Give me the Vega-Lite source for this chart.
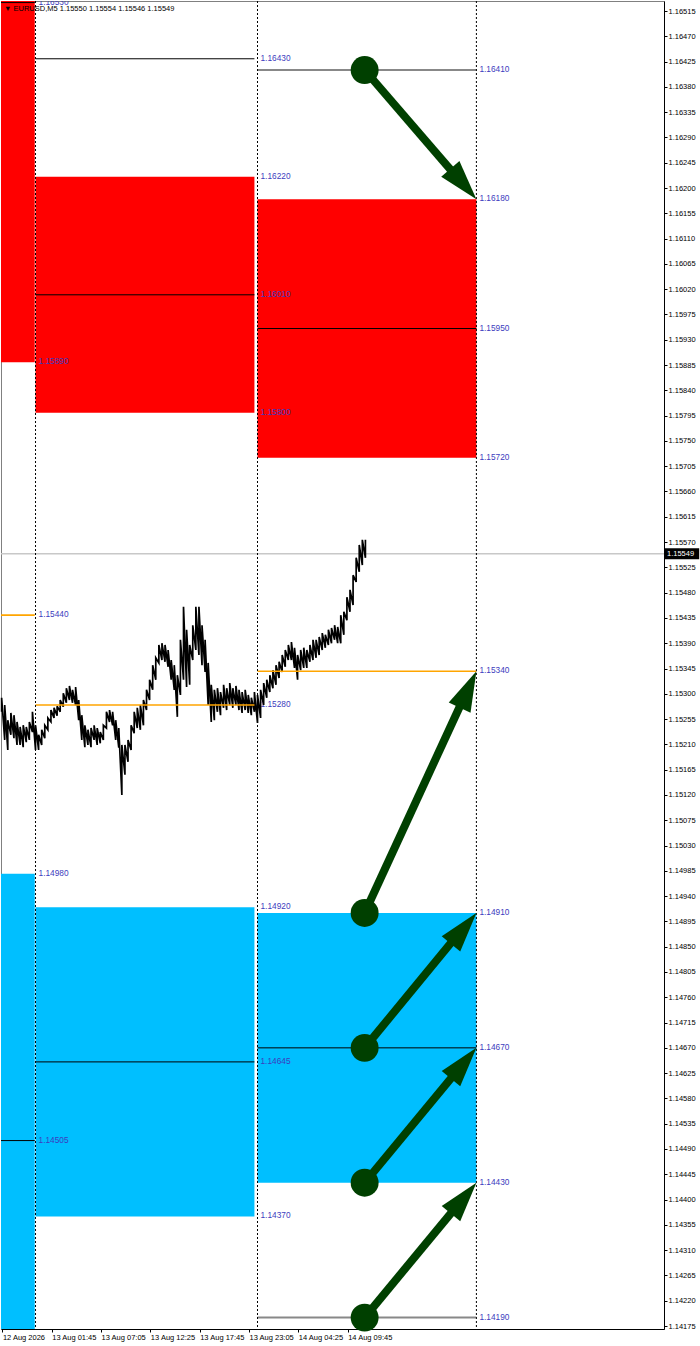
{
  "$schema": "https://vega.github.io/schema/vega-lite/v6.json",
  "width": 663,
  "height": 1328,
  "autosize": {"type": "none"},
  "padding": {"left": 1, "top": 1, "right": 36, "bottom": 17},
  "background": "white",
  "config": {"view": {"stroke": "#808080", "strokeWidth": 1}, "font": "Liberation Sans", "axis": {"labelOverlap": false}},
  "title": {"text": "▼ EURUSD,M5  1.15550 1.15554 1.15546 1.15549", "anchor": "start", "frame": "group", "orient": "top", "offset": -18, "baseline": "alphabetic", "fontSize": 7.5, "fontWeight": "normal", "font": "Liberation Sans", "color": "#000000", "dx": 3},
  "datasets": {
    "zones": [
      {"day": "12 Aug", "start": "2026-08-12T00:00Z", "end": "2026-08-12T23:55Z", "red_lo": 1.15890, "red_hi": 1.17170, "blue_lo": 1.14030, "blue_hi": 1.14980},
      {"day": "13 Aug", "start": "2026-08-13T00:00Z", "end": "2026-08-13T23:40Z", "red_lo": 1.15800, "red_hi": 1.16220, "blue_lo": 1.14370, "blue_hi": 1.14920},
      {"day": "14 Aug", "start": "2026-08-14T00:00Z", "end": "2026-08-14T23:40Z", "red_lo": 1.15720, "red_hi": 1.16180, "blue_lo": 1.14430, "blue_hi": 1.14910}
    ],
    "levels": [
      {"start": "2026-08-12T00:00Z", "end": "2026-08-12T23:55Z", "at": "2026-08-13T00:00Z", "price": 1.16530, "role": "level"},
      {"start": "2026-08-12T00:00Z", "end": "2026-08-12T23:55Z", "at": "2026-08-13T00:00Z", "price": 1.15890, "role": "zone"},
      {"start": "2026-08-12T00:00Z", "end": "2026-08-12T23:55Z", "at": "2026-08-13T00:00Z", "price": 1.15440, "role": "pivot"},
      {"start": "2026-08-12T00:00Z", "end": "2026-08-12T23:55Z", "at": "2026-08-13T00:00Z", "price": 1.14980, "role": "zone"},
      {"start": "2026-08-12T00:00Z", "end": "2026-08-12T23:55Z", "at": "2026-08-13T00:00Z", "price": 1.14505, "role": "level"},
      {"start": "2026-08-13T00:00Z", "end": "2026-08-13T23:40Z", "at": "2026-08-14T00:00Z", "price": 1.16430, "role": "level"},
      {"start": "2026-08-13T00:00Z", "end": "2026-08-13T23:40Z", "at": "2026-08-14T00:00Z", "price": 1.16220, "role": "zone"},
      {"start": "2026-08-13T00:00Z", "end": "2026-08-13T23:40Z", "at": "2026-08-14T00:00Z", "price": 1.16010, "role": "level"},
      {"start": "2026-08-13T00:00Z", "end": "2026-08-13T23:40Z", "at": "2026-08-14T00:00Z", "price": 1.15800, "role": "zone"},
      {"start": "2026-08-13T00:00Z", "end": "2026-08-13T23:40Z", "at": "2026-08-14T00:00Z", "price": 1.15280, "role": "pivot"},
      {"start": "2026-08-13T00:00Z", "end": "2026-08-13T23:40Z", "at": "2026-08-14T00:00Z", "price": 1.14920, "role": "zone"},
      {"start": "2026-08-13T00:00Z", "end": "2026-08-13T23:40Z", "at": "2026-08-14T00:00Z", "price": 1.14645, "role": "level"},
      {"start": "2026-08-13T00:00Z", "end": "2026-08-13T23:40Z", "at": "2026-08-14T00:00Z", "price": 1.14370, "role": "zone"},
      {"start": "2026-08-14T00:00Z", "end": "2026-08-14T23:40Z", "at": "2026-08-14T23:40Z", "price": 1.16410, "role": "target"},
      {"start": "2026-08-14T00:00Z", "end": "2026-08-14T23:40Z", "at": "2026-08-14T23:40Z", "price": 1.16180, "role": "zone"},
      {"start": "2026-08-14T00:00Z", "end": "2026-08-14T23:40Z", "at": "2026-08-14T23:40Z", "price": 1.15950, "role": "level"},
      {"start": "2026-08-14T00:00Z", "end": "2026-08-14T23:40Z", "at": "2026-08-14T23:40Z", "price": 1.15720, "role": "zone"},
      {"start": "2026-08-14T00:00Z", "end": "2026-08-14T23:40Z", "at": "2026-08-14T23:40Z", "price": 1.15340, "role": "pivot"},
      {"start": "2026-08-14T00:00Z", "end": "2026-08-14T23:40Z", "at": "2026-08-14T23:40Z", "price": 1.14910, "role": "zone"},
      {"start": "2026-08-14T00:00Z", "end": "2026-08-14T23:40Z", "at": "2026-08-14T23:40Z", "price": 1.14670, "role": "level"},
      {"start": "2026-08-14T00:00Z", "end": "2026-08-14T23:40Z", "at": "2026-08-14T23:40Z", "price": 1.14430, "role": "zone"},
      {"start": "2026-08-14T00:00Z", "end": "2026-08-14T23:40Z", "at": "2026-08-14T23:40Z", "price": 1.14190, "role": "target"}
    ],
    "separators": [
      {"at": "2026-08-13T00:00Z"},
      {"at": "2026-08-14T00:00Z"},
      {"at": "2026-08-14T23:40Z"}
    ],
    "arrows": [
      {"id": "a1", "t0": "2026-08-14T11:35Z", "p0": 1.16410, "tb": "2026-08-14T21:13Z", "pb": 1.16226, "t1": "2026-08-14T23:40Z", "p1": 1.16180},
      {"id": "a2", "t0": "2026-08-14T11:35Z", "p0": 1.14910, "tb": "2026-08-14T22:05Z", "pb": 1.15285, "t1": "2026-08-14T23:40Z", "p1": 1.15340},
      {"id": "a3", "t0": "2026-08-14T11:35Z", "p0": 1.14670, "tb": "2026-08-14T21:17Z", "pb": 1.14864, "t1": "2026-08-14T23:40Z", "p1": 1.14910},
      {"id": "a4", "t0": "2026-08-14T11:35Z", "p0": 1.14430, "tb": "2026-08-14T21:17Z", "pb": 1.14623, "t1": "2026-08-14T23:40Z", "p1": 1.14670},
      {"id": "a5", "t0": "2026-08-14T11:35Z", "p0": 1.14190, "tb": "2026-08-14T21:17Z", "pb": 1.14383, "t1": "2026-08-14T23:40Z", "p1": 1.14430}
    ],
    "current": [{"price": 1.15549}],
    "prices": [
      {"t": "2026-08-12T20:20Z", "lo": 1.15268, "hi": 1.15293},
      {"t": "2026-08-12T20:40Z", "lo": 1.15218, "hi": 1.15280},
      {"t": "2026-08-12T21:00Z", "lo": 1.15200, "hi": 1.15253},
      {"t": "2026-08-12T21:20Z", "lo": 1.15227, "hi": 1.15266},
      {"t": "2026-08-12T21:40Z", "lo": 1.15221, "hi": 1.15262},
      {"t": "2026-08-12T22:00Z", "lo": 1.15209, "hi": 1.15250},
      {"t": "2026-08-12T22:20Z", "lo": 1.15209, "hi": 1.15241},
      {"t": "2026-08-12T22:40Z", "lo": 1.15205, "hi": 1.15244},
      {"t": "2026-08-12T23:00Z", "lo": 1.15214, "hi": 1.15241},
      {"t": "2026-08-12T23:20Z", "lo": 1.15218, "hi": 1.15250},
      {"t": "2026-08-12T23:40Z", "lo": 1.15232, "hi": 1.15268},
      {"t": "2026-08-13T00:00Z", "lo": 1.15200, "hi": 1.15244},
      {"t": "2026-08-13T00:20Z", "lo": 1.15200, "hi": 1.15227},
      {"t": "2026-08-13T00:40Z", "lo": 1.15209, "hi": 1.15236},
      {"t": "2026-08-13T01:00Z", "lo": 1.15221, "hi": 1.15244},
      {"t": "2026-08-13T01:20Z", "lo": 1.15236, "hi": 1.15257},
      {"t": "2026-08-13T01:40Z", "lo": 1.15250, "hi": 1.15271},
      {"t": "2026-08-13T02:00Z", "lo": 1.15257, "hi": 1.15275},
      {"t": "2026-08-13T02:20Z", "lo": 1.15261, "hi": 1.15278},
      {"t": "2026-08-13T02:40Z", "lo": 1.15268, "hi": 1.15289},
      {"t": "2026-08-13T03:00Z", "lo": 1.15277, "hi": 1.15301},
      {"t": "2026-08-13T03:20Z", "lo": 1.15284, "hi": 1.15310},
      {"t": "2026-08-13T03:40Z", "lo": 1.15289, "hi": 1.15314},
      {"t": "2026-08-13T04:00Z", "lo": 1.15284, "hi": 1.15307},
      {"t": "2026-08-13T04:20Z", "lo": 1.15280, "hi": 1.15312},
      {"t": "2026-08-13T04:40Z", "lo": 1.15253, "hi": 1.15289},
      {"t": "2026-08-13T05:00Z", "lo": 1.15218, "hi": 1.15262},
      {"t": "2026-08-13T05:20Z", "lo": 1.15205, "hi": 1.15244},
      {"t": "2026-08-13T05:40Z", "lo": 1.15209, "hi": 1.15236},
      {"t": "2026-08-13T06:00Z", "lo": 1.15205, "hi": 1.15239},
      {"t": "2026-08-13T06:20Z", "lo": 1.15218, "hi": 1.15244},
      {"t": "2026-08-13T06:40Z", "lo": 1.15209, "hi": 1.15239},
      {"t": "2026-08-13T07:00Z", "lo": 1.15212, "hi": 1.15232},
      {"t": "2026-08-13T07:20Z", "lo": 1.15218, "hi": 1.15244},
      {"t": "2026-08-13T07:40Z", "lo": 1.15239, "hi": 1.15268},
      {"t": "2026-08-13T08:00Z", "lo": 1.15250, "hi": 1.15271},
      {"t": "2026-08-13T08:20Z", "lo": 1.15244, "hi": 1.15268},
      {"t": "2026-08-13T08:40Z", "lo": 1.15218, "hi": 1.15253},
      {"t": "2026-08-13T09:00Z", "lo": 1.15204, "hi": 1.15239},
      {"t": "2026-08-13T09:20Z", "lo": 1.15120, "hi": 1.15209},
      {"t": "2026-08-13T09:40Z", "lo": 1.15156, "hi": 1.15209},
      {"t": "2026-08-13T10:00Z", "lo": 1.15179, "hi": 1.15218},
      {"t": "2026-08-13T10:20Z", "lo": 1.15200, "hi": 1.15244},
      {"t": "2026-08-13T10:40Z", "lo": 1.15230, "hi": 1.15268},
      {"t": "2026-08-13T11:00Z", "lo": 1.15239, "hi": 1.15275},
      {"t": "2026-08-13T11:20Z", "lo": 1.15236, "hi": 1.15280},
      {"t": "2026-08-13T11:40Z", "lo": 1.15244, "hi": 1.15289},
      {"t": "2026-08-13T12:00Z", "lo": 1.15271, "hi": 1.15307},
      {"t": "2026-08-13T12:20Z", "lo": 1.15289, "hi": 1.15325},
      {"t": "2026-08-13T12:40Z", "lo": 1.15307, "hi": 1.15351},
      {"t": "2026-08-13T13:00Z", "lo": 1.15325, "hi": 1.15364},
      {"t": "2026-08-13T13:20Z", "lo": 1.15355, "hi": 1.15387},
      {"t": "2026-08-13T13:40Z", "lo": 1.15360, "hi": 1.15390},
      {"t": "2026-08-13T14:00Z", "lo": 1.15357, "hi": 1.15387},
      {"t": "2026-08-13T14:20Z", "lo": 1.15348, "hi": 1.15378},
      {"t": "2026-08-13T14:40Z", "lo": 1.15325, "hi": 1.15360},
      {"t": "2026-08-13T15:00Z", "lo": 1.15307, "hi": 1.15351},
      {"t": "2026-08-13T15:20Z", "lo": 1.15259, "hi": 1.15333},
      {"t": "2026-08-13T15:40Z", "lo": 1.15298, "hi": 1.15396},
      {"t": "2026-08-13T16:00Z", "lo": 1.15325, "hi": 1.15455},
      {"t": "2026-08-13T16:20Z", "lo": 1.15312, "hi": 1.15414},
      {"t": "2026-08-13T16:40Z", "lo": 1.15316, "hi": 1.15387},
      {"t": "2026-08-13T17:00Z", "lo": 1.15360, "hi": 1.15422},
      {"t": "2026-08-13T17:20Z", "lo": 1.15378, "hi": 1.15455},
      {"t": "2026-08-13T17:40Z", "lo": 1.15369, "hi": 1.15455},
      {"t": "2026-08-13T18:00Z", "lo": 1.15351, "hi": 1.15422},
      {"t": "2026-08-13T18:20Z", "lo": 1.15339, "hi": 1.15396},
      {"t": "2026-08-13T18:40Z", "lo": 1.15280, "hi": 1.15355},
      {"t": "2026-08-13T19:00Z", "lo": 1.15250, "hi": 1.15316},
      {"t": "2026-08-13T19:20Z", "lo": 1.15253, "hi": 1.15307},
      {"t": "2026-08-13T19:40Z", "lo": 1.15268, "hi": 1.15310},
      {"t": "2026-08-13T20:00Z", "lo": 1.15262, "hi": 1.15303},
      {"t": "2026-08-13T20:20Z", "lo": 1.15275, "hi": 1.15316},
      {"t": "2026-08-13T20:40Z", "lo": 1.15271, "hi": 1.15310},
      {"t": "2026-08-13T21:00Z", "lo": 1.15280, "hi": 1.15319},
      {"t": "2026-08-13T21:20Z", "lo": 1.15275, "hi": 1.15310},
      {"t": "2026-08-13T21:40Z", "lo": 1.15280, "hi": 1.15314},
      {"t": "2026-08-13T22:00Z", "lo": 1.15271, "hi": 1.15307},
      {"t": "2026-08-13T22:20Z", "lo": 1.15266, "hi": 1.15303},
      {"t": "2026-08-13T22:40Z", "lo": 1.15271, "hi": 1.15307},
      {"t": "2026-08-13T23:00Z", "lo": 1.15266, "hi": 1.15298},
      {"t": "2026-08-13T23:20Z", "lo": 1.15262, "hi": 1.15293},
      {"t": "2026-08-13T23:40Z", "lo": 1.15268, "hi": 1.15303},
      {"t": "2026-08-14T00:00Z", "lo": 1.15248, "hi": 1.15298},
      {"t": "2026-08-14T00:20Z", "lo": 1.15257, "hi": 1.15307},
      {"t": "2026-08-14T00:40Z", "lo": 1.15280, "hi": 1.15319},
      {"t": "2026-08-14T01:00Z", "lo": 1.15293, "hi": 1.15325},
      {"t": "2026-08-14T01:20Z", "lo": 1.15303, "hi": 1.15333},
      {"t": "2026-08-14T01:40Z", "lo": 1.15310, "hi": 1.15342},
      {"t": "2026-08-14T02:00Z", "lo": 1.15316, "hi": 1.15351},
      {"t": "2026-08-14T02:20Z", "lo": 1.15328, "hi": 1.15357},
      {"t": "2026-08-14T02:40Z", "lo": 1.15339, "hi": 1.15369},
      {"t": "2026-08-14T03:00Z", "lo": 1.15348, "hi": 1.15378},
      {"t": "2026-08-14T03:20Z", "lo": 1.15360, "hi": 1.15387},
      {"t": "2026-08-14T03:40Z", "lo": 1.15360, "hi": 1.15392},
      {"t": "2026-08-14T04:00Z", "lo": 1.15346, "hi": 1.15382},
      {"t": "2026-08-14T04:20Z", "lo": 1.15325, "hi": 1.15369},
      {"t": "2026-08-14T04:40Z", "lo": 1.15342, "hi": 1.15378},
      {"t": "2026-08-14T05:00Z", "lo": 1.15346, "hi": 1.15382},
      {"t": "2026-08-14T05:20Z", "lo": 1.15346, "hi": 1.15378},
      {"t": "2026-08-14T05:40Z", "lo": 1.15357, "hi": 1.15387},
      {"t": "2026-08-14T06:00Z", "lo": 1.15360, "hi": 1.15396},
      {"t": "2026-08-14T06:20Z", "lo": 1.15364, "hi": 1.15396},
      {"t": "2026-08-14T06:40Z", "lo": 1.15369, "hi": 1.15401},
      {"t": "2026-08-14T07:00Z", "lo": 1.15378, "hi": 1.15408},
      {"t": "2026-08-14T07:20Z", "lo": 1.15382, "hi": 1.15405},
      {"t": "2026-08-14T07:40Z", "lo": 1.15387, "hi": 1.15414},
      {"t": "2026-08-14T08:00Z", "lo": 1.15390, "hi": 1.15417},
      {"t": "2026-08-14T08:20Z", "lo": 1.15396, "hi": 1.15422},
      {"t": "2026-08-14T08:40Z", "lo": 1.15390, "hi": 1.15419},
      {"t": "2026-08-14T09:00Z", "lo": 1.15390, "hi": 1.15440},
      {"t": "2026-08-14T09:20Z", "lo": 1.15405, "hi": 1.15446},
      {"t": "2026-08-14T09:40Z", "lo": 1.15431, "hi": 1.15472},
      {"t": "2026-08-14T10:00Z", "lo": 1.15446, "hi": 1.15485},
      {"t": "2026-08-14T10:20Z", "lo": 1.15458, "hi": 1.15511},
      {"t": "2026-08-14T10:40Z", "lo": 1.15499, "hi": 1.15542},
      {"t": "2026-08-14T11:00Z", "lo": 1.15517, "hi": 1.15565},
      {"t": "2026-08-14T11:20Z", "lo": 1.15529, "hi": 1.15574},
      {"t": "2026-08-14T11:40Z", "lo": 1.15542, "hi": 1.15574}
    ]
  },
  "layer": [
    {
      "data": {"name": "zones"},
      "mark": {"type": "rect", "color": "#ff0000", "clip": true},
      "encoding": {
        "x": {"field": "start", "type": "temporal",
          "scale": {"type": "utc", "domain": [{"year": 2026, "month": 8, "date": 12, "hours": 20, "minutes": 16, "utc": true}, {"year": 2026, "month": 8, "date": 15, "hours": 19, "minutes": 57, "utc": true}]},
          "axis": {"orient": "bottom", "title": null, "grid": false, "tickCount": 50,
            "values": [
              {"year": 2026, "month": 8, "date": 12, "hours": 20, "minutes": 25, "utc": true},
              {"year": 2026, "month": 8, "date": 13, "hours": 1, "minutes": 45, "utc": true},
              {"year": 2026, "month": 8, "date": 13, "hours": 7, "minutes": 5, "utc": true},
              {"year": 2026, "month": 8, "date": 13, "hours": 12, "minutes": 25, "utc": true},
              {"year": 2026, "month": 8, "date": 13, "hours": 17, "minutes": 45, "utc": true},
              {"year": 2026, "month": 8, "date": 13, "hours": 23, "minutes": 5, "utc": true},
              {"year": 2026, "month": 8, "date": 14, "hours": 4, "minutes": 25, "utc": true},
              {"year": 2026, "month": 8, "date": 14, "hours": 9, "minutes": 45, "utc": true}
            ],
            "labelExpr": "utcFormat(datum.value, '%H:%M') == '20:25' ? '12 Aug 2026' : utcFormat(datum.value, '%d %b %H:%M')",
            "labelAlign": "left", "labelBaseline": "top", "labelFontSize": 7.5, "labelFont": "Liberation Sans", "labelColor": "#000000",
            "tickSize": 3, "tickColor": "#000000", "domainColor": "#000000", "labelPadding": 1, "labelDx": 1,
            "labelOverlap": false, "labelFlush": false, "labelBound": false}},
        "x2": {"field": "end"},
        "y": {"field": "red_lo", "type": "quantitative",
          "scale": {"domain": [1.141697, 1.165328], "zero": false, "nice": false},
          "axis": {"orient": "right", "title": null, "grid": false, "tickCount": 200,
            "values": [1.14175, 1.14220, 1.14265, 1.14310, 1.14355, 1.14400, 1.14445, 1.14490, 1.14535, 1.14580, 1.14625, 1.14670, 1.14715, 1.14760, 1.14805, 1.14850, 1.14895, 1.14940, 1.14985, 1.15030, 1.15075, 1.15120, 1.15165, 1.15210, 1.15255, 1.15300, 1.15345, 1.15390, 1.15435, 1.15480, 1.15525, 1.15570, 1.15615, 1.15660, 1.15705, 1.15750, 1.15795, 1.15840, 1.15885, 1.15930, 1.15975, 1.16020, 1.16065, 1.16110, 1.16155, 1.16200, 1.16245, 1.16290, 1.16335, 1.16380, 1.16425, 1.16470, 1.16515],
            "format": ".5f", "labelAlign": "left", "labelBaseline": "middle", "labelFontSize": 7.5, "labelFont": "Liberation Sans", "labelColor": "#000000",
            "tickSize": 3, "tickColor": "#000000", "domainColor": "#000000", "labelPadding": 1,
            "labelOverlap": false, "labelFlush": false, "labelBound": false}},
        "y2": {"field": "red_hi"}
      }
    },
    {
      "data": {"name": "zones"},
      "mark": {"type": "rect", "color": "#00bfff", "clip": true},
      "encoding": {
        "x": {"field": "start", "type": "temporal"},
        "x2": {"field": "end"},
        "y": {"field": "blue_lo", "type": "quantitative"},
        "y2": {"field": "blue_hi"}
      }
    },
    {
      "data": {"name": "current"},
      "mark": {"type": "rule", "color": "#c8c8c8", "strokeWidth": 1.5},
      "encoding": {
        "y": {"field": "price", "type": "quantitative"}
      }
    },
    {
      "data": {"name": "levels"},
      "mark": {"type": "text", "align": "left", "baseline": "middle", "dx": 3, "fontSize": 8.3, "font": "Liberation Sans", "color": "#3c3cbe", "clip": true},
      "encoding": {
        "x": {"field": "at", "type": "temporal"},
        "y": {"field": "price", "type": "quantitative"},
        "text": {"field": "price", "type": "quantitative", "format": ".5f"}
      }
    },
    {
      "data": {"name": "prices"},
      "transform": [{"fold": ["lo", "hi"], "as": ["side", "p"]}],
      "mark": {"type": "line", "color": "#000000", "strokeWidth": 1.7, "strokeJoin": "miter"},
      "encoding": {
        "x": {"field": "t", "type": "temporal"},
        "y": {"field": "p", "type": "quantitative"}
      }
    },
    {
      "data": {"name": "levels"},
      "transform": [{"filter": "datum.role == 'level'"}],
      "mark": {"type": "rule", "color": "#000000", "strokeWidth": 1, "clip": true},
      "encoding": {
        "x": {"field": "start", "type": "temporal"},
        "x2": {"field": "end"},
        "y": {"field": "price", "type": "quantitative"}
      }
    },
    {
      "data": {"name": "levels"},
      "transform": [{"filter": "datum.role == 'pivot'"}],
      "mark": {"type": "rule", "color": "#ffa500", "strokeWidth": 1.6, "clip": true},
      "encoding": {
        "x": {"field": "start", "type": "temporal"},
        "x2": {"field": "end"},
        "y": {"field": "price", "type": "quantitative"}
      }
    },
    {
      "data": {"name": "levels"},
      "transform": [{"filter": "datum.role == 'target'"}],
      "mark": {"type": "rule", "color": "#888888", "strokeWidth": 2, "clip": true},
      "encoding": {
        "x": {"field": "start", "type": "temporal"},
        "x2": {"field": "end"},
        "y": {"field": "price", "type": "quantitative"}
      }
    },
    {
      "data": {"name": "separators"},
      "mark": {"type": "rule", "color": "#000000", "strokeWidth": 1, "strokeDash": [2, 2]},
      "encoding": {
        "x": {"field": "at", "type": "temporal"}
      }
    },
    {
      "data": {"name": "arrows"},
      "mark": {"type": "rule", "color": "#004000", "strokeWidth": 8, "strokeCap": "butt"},
      "encoding": {
        "x": {"field": "t0", "type": "temporal"},
        "x2": {"field": "tb"},
        "y": {"field": "p0", "type": "quantitative"},
        "y2": {"field": "pb"}
      }
    },
    {
      "data": {"name": "arrows"},
      "transform": [{"filter": "datum.id == 'a1'"}],
      "mark": {"type": "point", "shape": "M0,0L0.6,2L-0.6,2Z", "size": 1600, "filled": true, "opacity": 1, "color": "#004000", "strokeWidth": 0, "angle": 139.3},
      "encoding": {
        "x": {"field": "t1", "type": "temporal"},
        "y": {"field": "p1", "type": "quantitative"}
      }
    },
    {
      "data": {"name": "arrows"},
      "transform": [{"filter": "datum.id == 'a2'"}],
      "mark": {"type": "point", "shape": "M0,0L0.6,2L-0.6,2Z", "size": 1600, "filled": true, "opacity": 1, "color": "#004000", "strokeWidth": 0, "angle": 24.8},
      "encoding": {
        "x": {"field": "t1", "type": "temporal"},
        "y": {"field": "p1", "type": "quantitative"}
      }
    },
    {
      "data": {"name": "arrows"},
      "transform": [{"filter": "datum.id == 'a3' || datum.id == 'a4' || datum.id == 'a5'"}],
      "mark": {"type": "point", "shape": "M0,0L0.6,2L-0.6,2Z", "size": 1600, "filled": true, "opacity": 1, "color": "#004000", "strokeWidth": 0, "angle": 39.5},
      "encoding": {
        "x": {"field": "t1", "type": "temporal"},
        "y": {"field": "p1", "type": "quantitative"}
      }
    },
    {
      "data": {"name": "arrows"},
      "mark": {"type": "point", "shape": "circle", "size": 780, "filled": true, "opacity": 1, "color": "#004000", "strokeWidth": 0},
      "encoding": {
        "x": {"field": "t0", "type": "temporal"},
        "y": {"field": "p0", "type": "quantitative"}
      }
    },
    {
      "data": {"name": "current"},
      "mark": {"type": "point", "shape": "M0,-1L6.4,-1L6.4,1L0,1Z", "size": 121, "filled": true, "opacity": 1, "color": "#000000", "strokeWidth": 0},
      "encoding": {
        "x": {"datum": {"year": 2026, "month": 8, "date": 15, "hours": 19, "minutes": 57, "utc": true}, "type": "temporal"},
        "y": {"field": "price", "type": "quantitative"}
      }
    },
    {
      "data": {"name": "current"},
      "mark": {"type": "text", "align": "left", "baseline": "middle", "dx": 3, "fontSize": 7.5, "font": "Liberation Sans", "color": "#ffffff"},
      "encoding": {
        "x": {"datum": {"year": 2026, "month": 8, "date": 15, "hours": 19, "minutes": 57, "utc": true}, "type": "temporal"},
        "y": {"field": "price", "type": "quantitative"},
        "text": {"field": "price", "type": "quantitative", "format": ".5f"}
      }
    }
  ]
}
